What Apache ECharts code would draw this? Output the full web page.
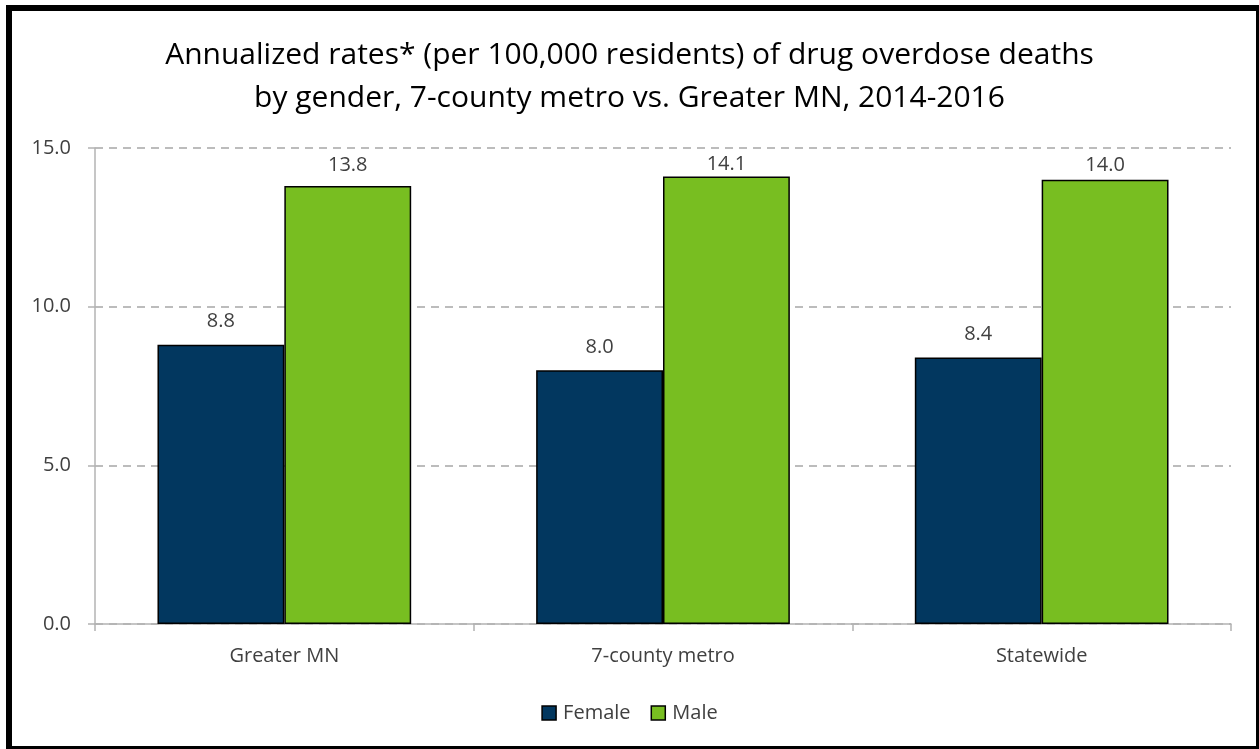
<!DOCTYPE html>
<html>
<head>
<meta charset="utf-8">
<script src="https://cdn.jsdelivr.net/npm/echarts@6/dist/echarts.min.js"></script>
<style>
html,body{margin:0;padding:0;background:#fff;}
#chart{width:1259px;height:749px;}
</style>
</head>
<body>
<div id="chart"></div>
<script>
const categories = ["Greater MN", "7-county metro", "Statewide"];
const female = [8.8, 8.0, 8.4];
const male = [13.8, 14.1, 14.0];
const yTicks = [0, 5, 10, 15];
const titleText = "Annualized rates* (per 100,000 residents) of drug overdose deaths\nby gender, 7-county metro vs. Greater MN, 2014-2016";

const chart = echarts.init(document.getElementById('chart'));
const labelFont = "'Open Sans', 'DejaVu Sans', sans-serif";
const baseLabel = { show: true, position: 'top', distance: 13, fontFamily: labelFont, fontSize: 20, color: '#404040', formatter: p => Number(p.value).toFixed(1) };
chart.setOption({
  animation: false,
  backgroundColor: '#ffffff',
  title: {
    text: titleText,
    left: 'center',
    top: 29,
    textStyle: {
      fontFamily: "'Open Sans', sans-serif",
      fontSize: 30,
      fontWeight: 'normal',
      color: '#000000',
      lineHeight: 43
    }
  },
  legend: {
    bottom: 21,
    left: 'center',
    itemWidth: 14,
    itemHeight: 14,
    itemGap: 20,
    icon: 'rect',
    itemStyle: { borderColor: '#000000', borderWidth: 1.5 },
    textStyle: { fontFamily: labelFont, fontSize: 20, color: '#404040', padding: [0,0,0,2] },
    data: ['Female', 'Male']
  },
  grid: { left: 95, right: 28, top: 148, bottom: 125, containLabel: false },
  xAxis: {
    type: 'category',
    data: categories,
    axisLine: { lineStyle: { color: '#b3b3b3', width: 1.5 } },
    axisTick: { show: true, length: 7, lineStyle: { color: '#b3b3b3', width: 1.5 } },
    axisLabel: { fontFamily: labelFont, fontSize: 20, color: '#404040', margin: 22 }
  },
  yAxis: {
    type: 'value',
    min: yTicks[0],
    max: yTicks[yTicks.length - 1],
    interval: 5,
    axisLine: { show: true, lineStyle: { color: '#b3b3b3', width: 1.5 } },
    axisTick: { show: true, length: 7, lineStyle: { color: '#b3b3b3', width: 1.5 } },
    axisLabel: {
      fontFamily: labelFont, fontSize: 20, color: '#404040', margin: 24,
      formatter: v => v.toFixed(1)
    },
    splitLine: { show: true, lineStyle: { color: '#a6a6a6', type: [8, 6], width: 1.5 } }
  },
  series: [
    {
      name: 'Female', type: 'bar', data: female,
      barGap: '0%', barCategoryGap: '33%',
      itemStyle: { color: '#02375f', borderColor: '#000000', borderWidth: 1.5 },
      label: baseLabel
    },
    {
      name: 'Male', type: 'bar', data: male,
      barGap: '0%', barCategoryGap: '33%',
      itemStyle: { color: '#78be21', borderColor: '#000000', borderWidth: 1.5 },
      label: baseLabel
    }
  ],
  graphic: [
    {
      type: 'rect', z: 100, silent: true,
      shape: { x: 9, y: 8, width: 1250, height: 741 },
      style: { fill: 'none', stroke: '#000000', lineWidth: 6 }
    }
  ]
});

// Keep value labels inside the plot area (as the original chart does): shrink the gap when a bar is near the top
function clampData(arr) {
  return arr.map(v => {
    const top = chart.convertToPixel({ yAxisIndex: 0 }, v);
    const d = Math.max(2, Math.min(13, top - 175));
    return { value: v, label: { distance: d } };
  });
}
chart.setOption({ series: [{ data: clampData(female) }, { data: clampData(male) }] });
</script>
</body>
</html>
